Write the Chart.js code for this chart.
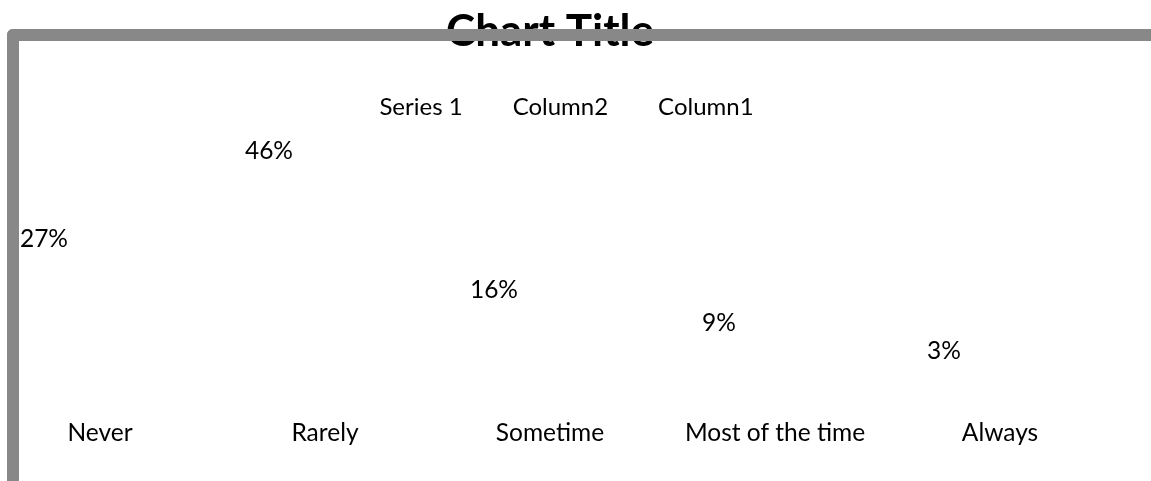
<!DOCTYPE html>
<html>
<head>
<meta charset="utf-8">
<title>Chart Title</title>
<script src="https://cdn.jsdelivr.net/npm/chart.js@4.4.1/dist/chart.umd.min.js"></script>
<style>
  html, body { margin: 0; padding: 0; background: #fff; overflow: hidden; }
  body { position: relative; width: 1151px; height: 481px; }
  /* canvas runs a little past the left edge so the first category sits under the frame */
  #wrap { position: absolute; left: -40px; top: 0; width: 1180px; height: 481px; }
  /* grey chart border, drawn over the title like the original */
  #frame {
    position: absolute; left: 7px; top: 29px; width: 1200px; height: 500px;
    border-top: 12px solid #888; border-left: 12px solid #888;
    border-top-left-radius: 6px; pointer-events: none;
  }
</style>
</head>
<body>
<div id="wrap"><canvas id="chart"></canvas></div>
<div id="frame"></div>
<script>
const categories = ['Never', 'Rarely', 'Sometime', 'Most of the time', 'Always'];
const series1 = [27, 46, 16, 9, 3];
const column2 = [null, null, null, null, null];
const column1 = [null, null, null, null, null];
const yMax = 50;

const FONT = 'Lato';
const LABEL_SIZE = 24.5;
Chart.defaults.font.family = FONT;
Chart.defaults.color = '#000';

// percentage labels on top of the Series 1 bars
const valueLabels = {
  id: 'valueLabels',
  afterDatasetsDraw(chart) {
    const ctx = chart.ctx;
    const meta = chart.getDatasetMeta(0);
    ctx.save();
    ctx.font = LABEL_SIZE + 'px ' + FONT;
    ctx.fillStyle = '#000';
    ctx.textAlign = 'center';
    ctx.textBaseline = 'alphabetic';
    meta.data.forEach(function (bar, i) {
      if (series1[i] == null) return;
      ctx.fillText(series1[i] + '%', bar.x, bar.y - 5);
    });
    ctx.restore();
  }
};

new Chart(document.getElementById('chart'), {
  type: 'bar',
  data: {
    labels: categories,
    datasets: [
      { label: 'Series 1', data: series1, backgroundColor: 'transparent', borderColor: 'transparent', borderWidth: 0 },
      { label: 'Column2', data: column2, backgroundColor: 'transparent', borderColor: 'transparent', borderWidth: 0 },
      { label: 'Column1', data: column1, backgroundColor: 'transparent', borderColor: 'transparent', borderWidth: 0 }
    ]
  },
  options: {
    responsive: true,
    maintainAspectRatio: false,
    animation: false,
    devicePixelRatio: 1,
    layout: { padding: { left: 27.5, right: 27.5, top: 0, bottom: 0 } },
    datasets: { bar: { categoryPercentage: 0.747, barPercentage: 0.9 } },
    plugins: {
      title: {
        display: true,
        text: 'Chart Title',
        color: '#000',
        font: { size: 44, weight: 'bold' },
        padding: { top: 5.8, bottom: 3.4 }
      },
      legend: {
        display: true,
        position: 'top',
        labels: {
          color: '#000',
          font: { size: 24 },
          boxWidth: 21,
          boxHeight: 56,
          padding: 17
        }
      },
      tooltip: { enabled: false }
    },
    scales: {
      x: {
        grid: { display: false, drawTicks: false },
        border: { display: false },
        ticks: { color: '#000', font: { size: LABEL_SIZE }, padding: 40, maxRotation: 0, autoSkip: false },
        afterFit: function (scale) { scale.height = 103; }
      },
      y: {
        display: false,
        min: 0,
        max: yMax
      }
    }
  },
  plugins: [valueLabels]
});
</script>
</body>
</html>
